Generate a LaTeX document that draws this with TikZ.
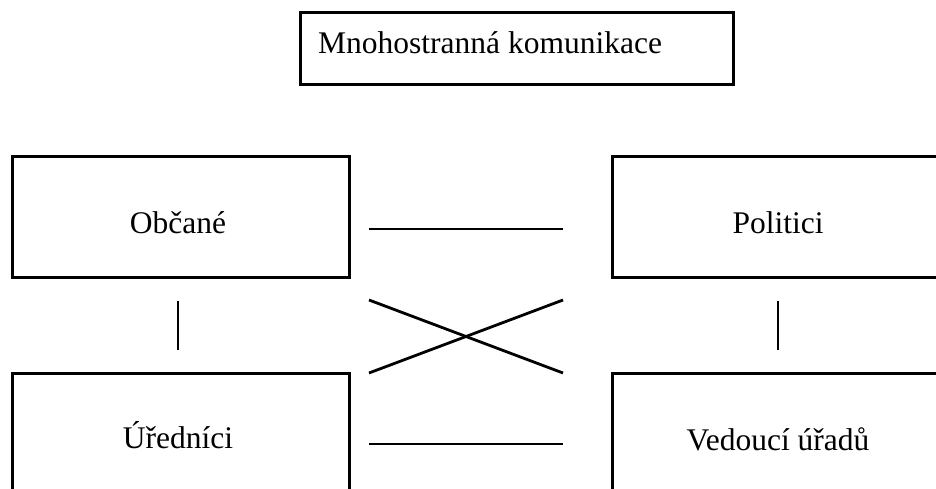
\documentclass[tikz,border=0pt]{standalone}
\usepackage{fontspec}
\setmainfont{Liberation Serif}
\begin{document}
\begin{tikzpicture}[x=1pt,y=-1pt,
  box/.style={draw=black,line width=3pt,rectangle,inner sep=0pt},
  lbl/.style={anchor=base,inner sep=0pt,font=\fontsize{31.5}{36}\selectfont},
  conn/.style={draw=black,line width=2.8pt}]
\useasboundingbox (0,0) rectangle (936,489);
\clip (0,0) rectangle (936,489);
% boxes
\node[box,minimum width=433pt,minimum height=72pt] (top) at (516.5,49) {};
\node[box,minimum width=337pt,minimum height=120pt] (obc) at (180.5,217) {};
\node[box,minimum width=332pt,minimum height=120pt] (pol) at (778,217) {};
\node[box,minimum width=337pt,minimum height=140pt] (ure) at (180.5,443) {};
\node[box,minimum width=332pt,minimum height=140pt] (ved) at (778,443) {};
% texts
\node[lbl,anchor=base west] (ttop) at (318,54) {Mnohostranná komunikace};
\node[lbl] (tobc) at (178,233) {Občané};
\node[lbl] (tpol) at (778,233) {Politici};
\node[lbl] (ture) at (178,448) {Úředníci};
\node[lbl] (tved) at (778,450) {Vedoucí úřadů};
% connector end points
\coordinate (h1a) at (369,229);
\coordinate (h1b) at (563,229);
\coordinate (h2a) at (369,444);
\coordinate (h2b) at (563,444);
\coordinate (xa) at (369,300);
\coordinate (xb) at (563,373);
\coordinate (xc) at (369,373);
\coordinate (xd) at (563,300);
\coordinate (v1a) at (178,301);
\coordinate (v1b) at (178,350);
\coordinate (v2a) at (778,301);
\coordinate (v2b) at (778,350);
% connectors
\draw[conn] (h1a) -- (h1b);
\draw[conn] (h2a) -- (h2b);
\draw[conn] (xa) -- (xb);
\draw[conn] (xc) -- (xd);
\draw[conn] (v1a) -- (v1b);
\draw[conn] (v2a) -- (v2b);
\end{tikzpicture}
\end{document}
